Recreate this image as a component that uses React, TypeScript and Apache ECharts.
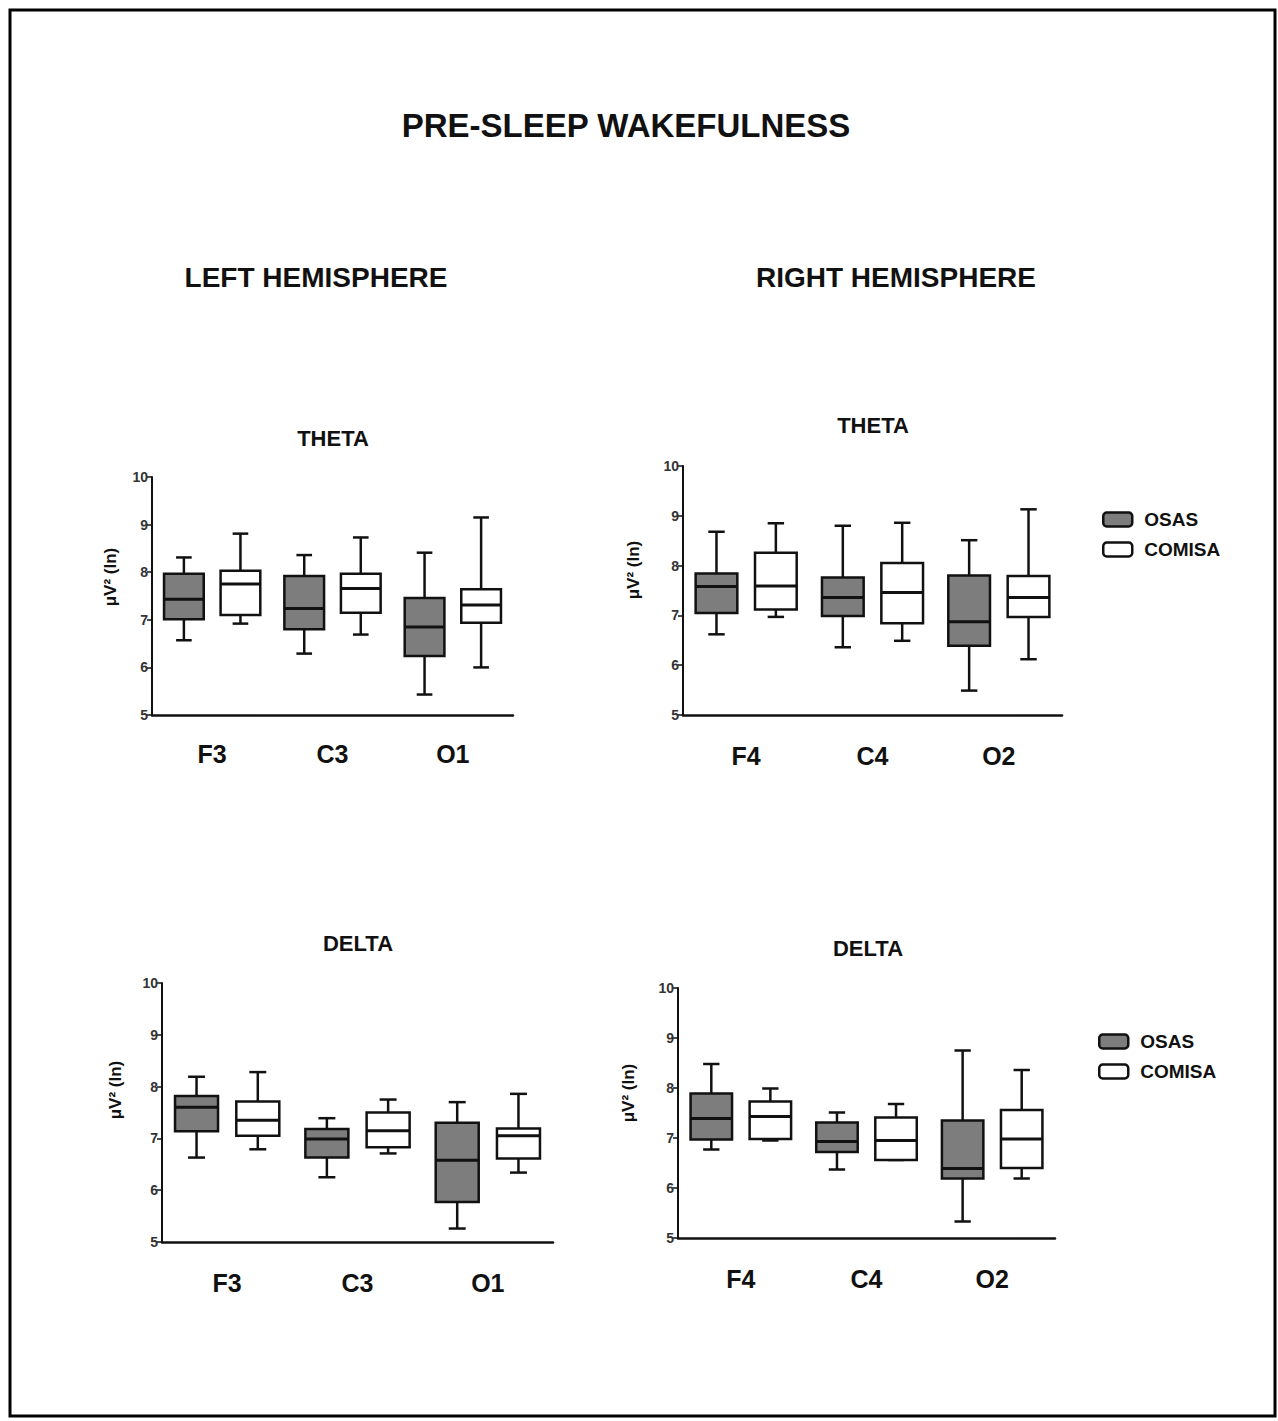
import React, { useEffect, useRef } from "react";
import * as echarts from "echarts";

// ---- Data ----
const mainTitle = "PRE-SLEEP WAKEFULNESS";
const hemisphereTitles = ["LEFT HEMISPHERE", "RIGHT HEMISPHERE"];
const bandTitles = ["THETA", "THETA", "DELTA", "DELTA"];
const yAxisName = "μV² (ln)";
const groupNames = ["OSAS", "COMISA"];

const categoriesLeft = ["F3", "C3", "O1"];
const categoriesRight = ["F4", "C4", "O2"];

// each item: [min, Q1, median, Q3, max]
const thetaLeftOsas = [
  [6.57, 7.01, 7.43, 7.97, 8.31],
  [6.29, 6.8, 7.24, 7.92, 8.36],
  [5.43, 6.24, 6.85, 7.46, 8.41],
];
const thetaLeftComisa = [
  [6.92, 7.1, 7.75, 8.03, 8.81],
  [6.69, 7.15, 7.66, 7.97, 8.73],
  [6.0, 6.94, 7.31, 7.64, 9.15],
];
const thetaRightOsas = [
  [6.62, 7.05, 7.58, 7.84, 8.68],
  [6.36, 6.99, 7.36, 7.76, 8.8],
  [5.49, 6.39, 6.87, 7.8, 8.51],
];
const thetaRightComisa = [
  [6.97, 7.12, 7.59, 8.26, 8.85],
  [6.49, 6.84, 7.46, 8.05, 8.86],
  [6.12, 6.97, 7.36, 7.79, 9.13],
];
const deltaLeftOsas = [
  [6.63, 7.14, 7.6, 7.82, 8.19],
  [6.25, 6.63, 6.99, 7.18, 7.39],
  [5.26, 5.77, 6.58, 7.3, 7.7],
];
const deltaLeftComisa = [
  [6.79, 7.05, 7.35, 7.71, 8.28],
  [6.71, 6.83, 7.15, 7.5, 7.75],
  [6.34, 6.61, 7.05, 7.19, 7.86],
];
const deltaRightOsas = [
  [6.77, 6.97, 7.39, 7.89, 8.48],
  [6.37, 6.72, 6.93, 7.31, 7.51],
  [5.33, 6.19, 6.39, 7.35, 8.75],
];
const deltaRightComisa = [
  [6.95, 6.98, 7.43, 7.73, 7.99],
  [6.56, 6.56, 6.95, 7.41, 7.68],
  [6.19, 6.4, 6.98, 7.56, 8.36],
];

const yMin = 5;
const yMax = 10;
const yInterval = 1;

// ---- Styles ----
const FONT = "'Liberation Sans', Arial, Helvetica, sans-serif";
const INK = "#111111";
const OSAS_FILL = "#7d7d7d";
const COMISA_FILL = "#ffffff";

const panels = [
  { grid: { left: 152, top: 477, width: 361, height: 238 }, cats: categoriesLeft, osas: thetaLeftOsas, comisa: thetaLeftComisa, title: [333, 438], yname: [110, 577], labelMargin: 26 },
  { grid: { left: 683, top: 466, width: 379, height: 249 }, cats: categoriesRight, osas: thetaRightOsas, comisa: thetaRightComisa, title: [873, 425], yname: [633, 570], labelMargin: 28 },
  { grid: { left: 162, top: 983, width: 391, height: 259 }, cats: categoriesLeft, osas: deltaLeftOsas, comisa: deltaLeftComisa, title: [358, 943], yname: [115, 1090], labelMargin: 28 },
  { grid: { left: 678, top: 988, width: 377, height: 250 }, cats: categoriesRight, osas: deltaRightOsas, comisa: deltaRightComisa, title: [868, 948], yname: [628, 1093], labelMargin: 28 },
];

function makeRenderItem(side: number, fill: string) {
  return (params: any, api: any) => {
    const cat = api.value(0);
    const low = api.value(1);
    const q1 = api.value(2);
    const med = api.value(3);
    const q3 = api.value(4);
    const high = api.value(5);
    const bw = api.size([1, 0])[0];
    const cx = api.coord([cat, med])[0] + side * bw * 0.235;
    const yLow = api.coord([cat, low])[1];
    const yQ1 = api.coord([cat, q1])[1];
    const yMed = api.coord([cat, med])[1];
    const yQ3 = api.coord([cat, q3])[1];
    const yHigh = api.coord([cat, high])[1];
    const boxW = bw * 0.33;
    const capW = bw * 0.13;
    const lineStyle = { stroke: INK, lineWidth: 2.5, fill: null };
    return {
      type: "group",
      children: [
        { type: "line", shape: { x1: cx, y1: yHigh, x2: cx, y2: yQ3 }, style: lineStyle },
        { type: "line", shape: { x1: cx - capW / 2, y1: yHigh, x2: cx + capW / 2, y2: yHigh }, style: lineStyle },
        { type: "line", shape: { x1: cx, y1: yQ1, x2: cx, y2: yLow }, style: lineStyle },
        { type: "line", shape: { x1: cx - capW / 2, y1: yLow, x2: cx + capW / 2, y2: yLow }, style: lineStyle },
        {
          type: "rect",
          shape: { x: cx - boxW / 2, y: yQ3, width: boxW, height: yQ1 - yQ3 },
          style: { fill, stroke: INK, lineWidth: 2.5 },
        },
        { type: "line", shape: { x1: cx - boxW / 2, y1: yMed, x2: cx + boxW / 2, y2: yMed }, style: { stroke: INK, lineWidth: 3 } },
      ],
    };
  };
}

function buildOption() {
  const grids: any[] = [];
  const xAxes: any[] = [];
  const yAxes: any[] = [];
  const series: any[] = [];
  const graphic: any[] = [];

  graphic.push({
    type: "rect",
    shape: { x: 10, y: 10, width: 1265, height: 1406 },
    style: { fill: "none", stroke: "#000", lineWidth: 3 },
    silent: true,
  });
  graphic.push({
    type: "text", x: 626, y: 125,
    style: { text: mainTitle, font: `bold 33px ${FONT}`, fill: INK, align: "center", verticalAlign: "middle" },
  });
  graphic.push({
    type: "text", x: 316, y: 277,
    style: { text: hemisphereTitles[0], font: `bold 28px ${FONT}`, fill: INK, align: "center", verticalAlign: "middle" },
  });
  graphic.push({
    type: "text", x: 896, y: 277,
    style: { text: hemisphereTitles[1], font: `bold 28px ${FONT}`, fill: INK, align: "center", verticalAlign: "middle" },
  });

  panels.forEach((p, i) => {
    grids.push({ ...p.grid, containLabel: false });
    xAxes.push({
      type: "category",
      gridIndex: i,
      data: p.cats,
      axisLine: { show: true, lineStyle: { color: INK, width: 2.5 } },
      axisTick: { show: false },
      axisLabel: { color: INK, fontFamily: FONT, fontWeight: "bold", fontSize: 25, margin: p.labelMargin },
      splitLine: { show: false },
    });
    yAxes.push({
      type: "value",
      gridIndex: i,
      min: yMin,
      max: yMax,
      interval: yInterval,
      axisLine: { show: true, lineStyle: { color: INK, width: 2 } },
      axisTick: { show: true, length: 5, lineStyle: { color: INK, width: 1.5 } },
      axisLabel: { color: "#333", fontFamily: FONT, fontWeight: "bold", fontSize: 14, margin: 4 },
      splitLine: { show: false },
    });
    const toData = (arr: number[][]) => arr.map((v, k) => [k, ...v]);
    series.push({
      type: "custom",
      name: groupNames[0],
      xAxisIndex: i,
      yAxisIndex: i,
      renderItem: makeRenderItem(-1, OSAS_FILL),
      encode: { x: 0, y: [1, 2, 3, 4, 5] },
      itemStyle: { color: OSAS_FILL, borderColor: INK, borderWidth: 2.5 },
      data: toData(p.osas),
    });
    series.push({
      type: "custom",
      name: groupNames[1],
      xAxisIndex: i,
      yAxisIndex: i,
      renderItem: makeRenderItem(1, COMISA_FILL),
      encode: { x: 0, y: [1, 2, 3, 4, 5] },
      itemStyle: { color: COMISA_FILL, borderColor: INK, borderWidth: 2.5 },
      data: toData(p.comisa),
    });
    graphic.push({
      type: "text", x: p.title[0], y: p.title[1],
      style: { text: bandTitles[i], font: `bold 22px ${FONT}`, fill: INK, align: "center", verticalAlign: "middle" },
    });
    graphic.push({
      type: "text", x: p.yname[0], y: p.yname[1], rotation: Math.PI / 2,
      style: { text: yAxisName, font: `bold 17px ${FONT}`, fill: INK, align: "center", verticalAlign: "middle" },
    });
  });

  const legendData = [
    { name: groupNames[0], itemStyle: { color: OSAS_FILL, borderColor: INK, borderWidth: 2.5 } },
    { name: groupNames[1], itemStyle: { color: COMISA_FILL, borderColor: INK, borderWidth: 2.5 } },
  ];
  const legendCommon = {
    orient: "vertical",
    selectedMode: false,
    icon: "roundRect",
    itemWidth: 29,
    itemHeight: 14,
    itemGap: 11,
    textStyle: { color: INK, fontFamily: FONT, fontWeight: "bold", fontSize: 19, padding: [0, 0, 0, 7] },
    data: legendData,
  };

  return {
    animation: false,
    backgroundColor: "#ffffff",
    grid: grids,
    xAxis: xAxes,
    yAxis: yAxes,
    series,
    legend: [
      { ...legendCommon, left: 1097, top: 505 },
      { ...legendCommon, left: 1093, top: 1027 },
    ],
    graphic,
  };
}

export default function App() {
  const ref = useRef<HTMLDivElement>(null);
  useEffect(() => {
    document.body.style.margin = "0";
    if (!ref.current) return;
    const chart = echarts.init(ref.current, null, { renderer: "svg" });
    chart.setOption(buildOption() as any);
    return () => chart.dispose();
  }, []);
  return <div ref={ref} style={{ position: "absolute", left: 0, top: 0, width: 1278, height: 1421 }} />;
}
